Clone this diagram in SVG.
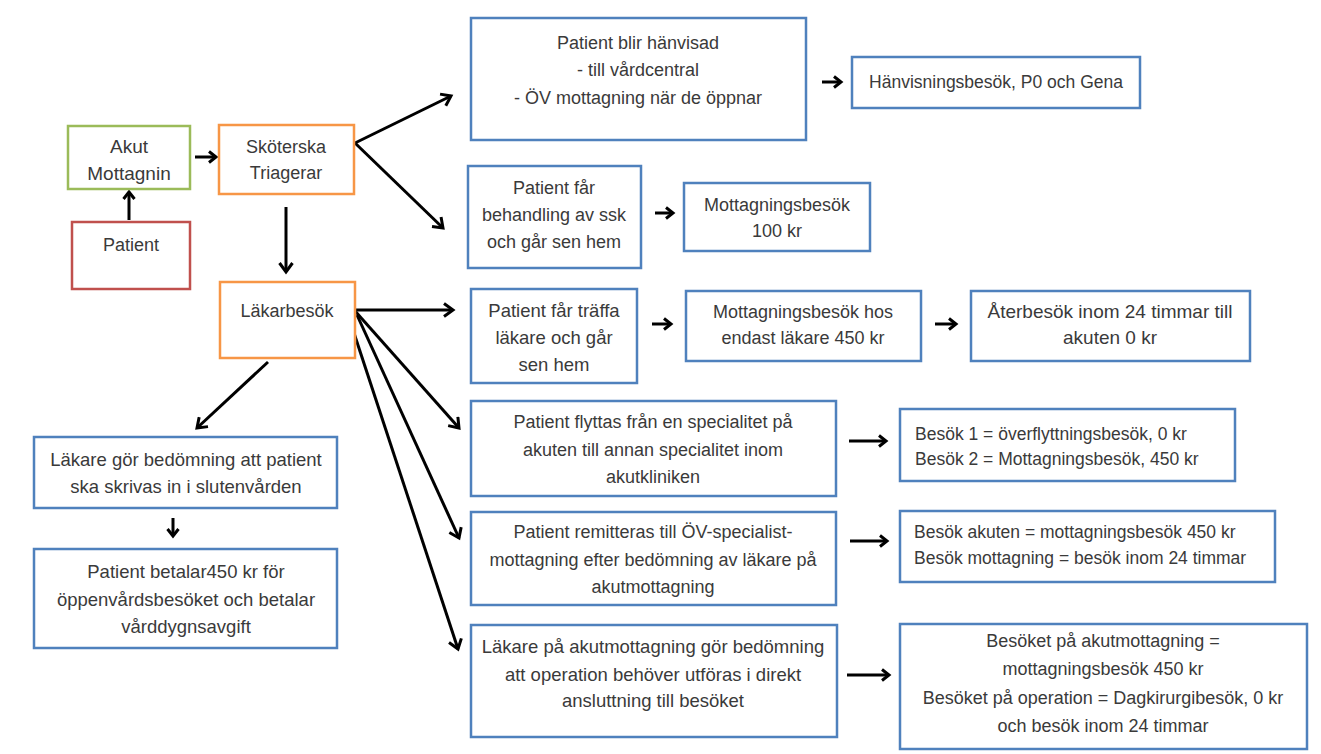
<svg xmlns="http://www.w3.org/2000/svg" width="1321" height="754" viewBox="0 0 1321 754">
<style>
.box{fill:#fff;stroke-width:2.5}
.b{stroke:#4f81bd}
.g{stroke:#9bbb59}
.r{stroke:#c0504d}
.o{stroke:#f79646}
text{font-family:"Liberation Sans","Open Sans",Arial,sans-serif;font-size:18px;fill:#3a3a3a;text-anchor:middle}
.l{text-anchor:start}
.f175{font-size:17.5px}
.f185{font-size:18.5px}
.f19{font-size:19px}
.c line{stroke:#000;stroke-width:3;fill:none}
.c .big{marker-end:url(#ah)}
.c .sm{marker-end:url(#ahs)}
</style>
<defs>
<marker id="ah" markerUnits="userSpaceOnUse" markerWidth="16" markerHeight="16" refX="12" refY="8" orient="auto">
<path d="M3,1.5 L12,8 L3,14.5" fill="none" stroke="#000" stroke-width="3"/>
</marker>
<marker id="ahs" markerUnits="userSpaceOnUse" markerWidth="14" markerHeight="14" refX="10" refY="7" orient="auto">
<path d="M3,1.5 L10,7 L3,12.5" fill="none" stroke="#000" stroke-width="3"/>
</marker>
</defs>
<rect width="1321" height="754" fill="#fff"/>
<g class="c" id="connectors">
<line class="sm" x1="129" y1="220" x2="129" y2="192"/>
<line class="sm" x1="195" y1="157" x2="216" y2="157"/>
<line class="big" x1="286" y1="207" x2="286" y2="272"/>
<line class="big" x1="355" y1="143" x2="451" y2="96"/>
<line class="big" x1="355" y1="143" x2="443" y2="228"/>
<line class="big" x1="355" y1="310" x2="453" y2="310"/>
<line class="big" x1="355" y1="311" x2="459" y2="428"/>
<line class="big" x1="357" y1="315" x2="459" y2="538"/>
<line class="big" x1="353" y1="330" x2="458" y2="649"/>
<line class="big" x1="268" y1="362" x2="197" y2="428"/>
<line class="sm" x1="173" y1="518" x2="173" y2="536"/>
<line class="sm" x1="822" y1="82" x2="841" y2="82"/>
<line class="sm" x1="655" y1="213" x2="673" y2="213"/>
<line class="sm" x1="652" y1="324" x2="671" y2="324"/>
<line class="sm" x1="935" y1="324" x2="956" y2="324"/>
<line class="sm" x1="849" y1="441" x2="886" y2="441"/>
<line class="sm" x1="850" y1="541" x2="887" y2="541"/>
<line class="sm" x1="847" y1="675" x2="889" y2="675"/>
</g>
<g id="akut"><rect class="box g" x="68" y="126" width="122" height="63"/><text class="f19" x="129" y="153">Akut</text><text class="f19" x="129" y="180">Mottagnin</text></g>
<g id="patient"><rect class="box r" x="72" y="222" width="118" height="67"/><text x="131" y="251">Patient</text></g>
<g id="skoterska"><rect class="box o" x="219" y="125" width="135" height="69"/><text x="286" y="153">Sköterska</text><text x="286" y="179">Triagerar</text></g>
<g id="lakarbesok"><rect class="box o" x="220" y="282" width="135" height="76"/><text x="287" y="317">Läkarbesök</text></g>
<g id="hanvisad"><rect class="box b" x="471" y="18" width="335" height="122"/><text x="638" y="49">Patient blir hänvisad</text><text x="638" y="76">- till vårdcentral</text><text x="638" y="104">- ÖV mottagning när de öppnar</text></g>
<g id="hanvisningsbesok"><rect class="box b" x="852" y="57" width="288" height="51"/><text class="f175" x="996" y="88">Hänvisningsbesök, P0 och Gena</text></g>
<g id="behandling"><rect class="box b" x="468" y="166" width="173" height="102"/><text x="554" y="194">Patient får</text><text x="554" y="221">behandling av ssk</text><text x="554" y="248">och går sen hem</text></g>
<g id="mott100"><rect class="box b" x="684" y="183" width="186" height="68"/><text x="777" y="211">Mottagningsbesök</text><text x="777" y="237">100 kr</text></g>
<g id="traffa"><rect class="box b" x="471" y="289" width="166" height="94"/><text class="f185" x="554" y="317">Patient får träffa</text><text class="f185" x="554" y="344">läkare och går</text><text class="f185" x="554" y="371">sen hem</text></g>
<g id="mott450"><rect class="box b" x="686" y="291" width="235" height="70"/><text x="803" y="318">Mottagningsbesök hos</text><text x="803" y="344">endast läkare 450 kr</text></g>
<g id="aterbesok"><rect class="box b" x="971" y="291" width="279" height="70"/><text class="f19" x="1110" y="318">Återbesök inom 24 timmar till</text><text class="f19" x="1110" y="344">akuten 0 kr</text></g>
<g id="flyttas"><rect class="box b" x="471" y="401" width="365" height="95"/><text x="653" y="428">Patient flyttas från en specialitet på</text><text x="653" y="456">akuten till annan specialitet inom</text><text x="653" y="483">akutkliniken</text></g>
<g id="besok12"><rect class="box b" x="900" y="409" width="335" height="72"/><text class="l f175" x="915" y="440">Besök 1 = överflyttningsbesök, 0 kr</text><text class="l f175" x="915" y="465">Besök 2 = Mottagningsbesök, 450 kr</text></g>
<g id="remitteras"><rect class="box b" x="471" y="512" width="365" height="93"/><text x="653" y="538">Patient remitteras till ÖV-specialist-</text><text x="653" y="566">mottagning efter bedömning av läkare på</text><text x="653" y="593">akutmottagning</text></g>
<g id="besokakuten"><rect class="box b" x="900" y="511" width="375" height="71"/><text class="l f175" x="914" y="538">Besök akuten = mottagningsbesök 450 kr</text><text class="l f175" x="914" y="564">Besök mottagning = besök inom 24 timmar</text></g>
<g id="operation"><rect class="box b" x="471" y="625" width="366" height="112"/><text class="f185" x="653" y="653">Läkare på akutmottagning gör bedömning</text><text class="f185" x="653" y="681">att operation behöver utföras i direkt</text><text class="f185" x="653" y="707">ansluttning till besöket</text></g>
<g id="besoket"><rect class="box b" x="900" y="624" width="407" height="125"/><text x="1103" y="647">Besöket på akutmottagning =</text><text x="1103" y="675">mottagningsbesök 450 kr</text><text x="1103" y="704">Besöket på operation = Dagkirurgibesök, 0 kr</text><text x="1103" y="732">och besök inom 24 timmar</text></g>
<g id="slutenvard"><rect class="box b" x="34" y="437" width="303" height="71"/><text class="f185" x="186" y="466">Läkare gör bedömning att patient</text><text class="f185" x="186" y="493">ska skrivas in i slutenvården</text></g>
<g id="betalar"><rect class="box b" x="34" y="549" width="303" height="99"/><text class="f185" x="186" y="578">Patient betalar450 kr för</text><text class="f185" x="186" y="606">öppenvårdsbesöket och betalar</text><text class="f185" x="186" y="633">vårddygnsavgift</text></g>
</svg>
